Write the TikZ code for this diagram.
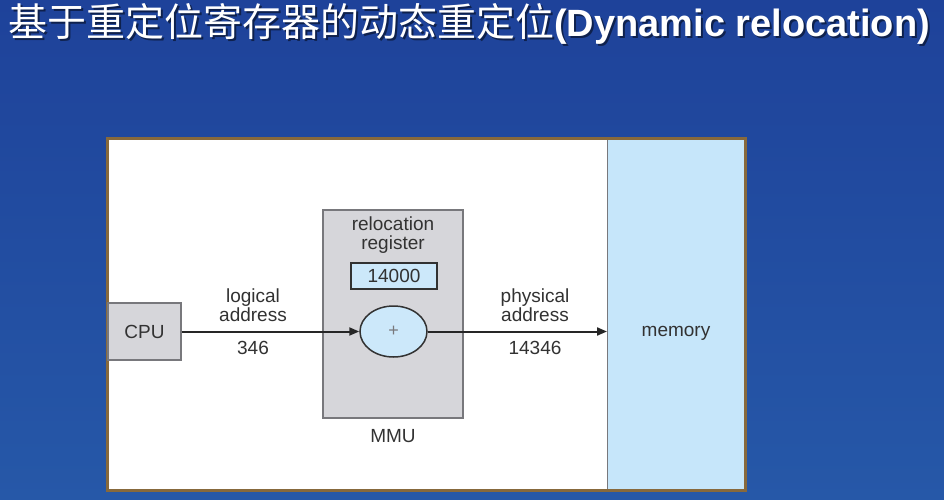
\documentclass[tikz,border=0pt]{standalone}
\usepackage{fontspec}
\setmainfont{Liberation Sans}
\newfontfamily\cjk{Noto Sans CJK SC}
\usetikzlibrary{arrows.meta,shapes.geometric}
\definecolor{bgtop}{RGB}{30,66,154}
\definecolor{bgbot}{RGB}{38,88,168}
\definecolor{framebrown}{RGB}{135,105,60}
\definecolor{memblue}{RGB}{198,230,250}
\definecolor{boxgray}{RGB}{214,214,218}
\definecolor{edgegray}{RGB}{120,120,124}
\definecolor{txt}{RGB}{50,50,50}
\definecolor{regblue}{RGB}{204,232,250}
\begin{document}
\begin{tikzpicture}[x=1pt,y=-1pt,
  lbl/.style={text=txt,font=\fontsize{19}{19}\selectfont,align=center,inner sep=0pt},
  graybox/.style={draw=edgegray,fill=boxgray,line width=1.2pt,inner sep=0pt},
  conn/.style={draw=black!85,line width=2pt,-{Triangle[length=10pt,width=8pt]}},
  ttl/.style={anchor=base west,inner sep=0pt}]
\useasboundingbox (0,0) rectangle (944,500);
\shade[top color=bgtop,bottom color=bgbot] (0,0) rectangle (944,500);
% title
\node[ttl,text=black,opacity=.5] (titleshadow) at (10,38.5) {{\cjk\fontsize{39}{40}\selectfont 基于重定位寄存器的动态重定位}{\fontsize{38}{40}\selectfont\bfseries(Dynamic relocation)}};
\node[ttl,text=white] (title) at (8,36.5) {{\cjk\fontsize{39}{40}\selectfont 基于重定位寄存器的动态重定位}{\fontsize{38}{40}\selectfont\bfseries(Dynamic relocation)}};
% frame
\draw[line width=3pt,draw=framebrown,fill=white] (107,138) rectangle (745,490);
\node[fill=memblue,draw=none,minimum width=136.5pt,minimum height=349pt,inner sep=0pt,anchor=north west] (mem) at (607,139.5) {};
\draw[edgegray,line width=1pt] (mem.north west) -- (mem.south west);
\node[lbl] (memlbl) at (676,333.5) {memory};
% CPU
\node[graybox,minimum width=73pt,minimum height=57pt] (cpu) at (144.5,331.5) {};
\node[lbl] (cpulbl) at (cpu.center) {CPU};
% MMU
\node[graybox,minimum width=140pt,minimum height=208pt] (mmu) at (393,314) {};
\node[lbl] (reloc) at (393,235) {relocation\\register};
\node[draw=txt,fill=regblue,line width=1.2pt,minimum width=86pt,minimum height=26pt,inner sep=0pt] (reg) at (394,276) {};
\node[lbl] (regval) at (reg.center) {14000};
\node[ellipse,draw=txt,fill=regblue,line width=1.5pt,minimum width=67pt,minimum height=51pt,inner sep=0pt] (plus) at (393.5,331.5) {};
\node[lbl,font=\fontsize{18}{18}\selectfont,text=edgegray] (plussign) at (plus.center) {+};
\node[lbl] (mmulbl) at (393,436) {MMU};
% arrows
\draw[conn] (cpu.east) -- (plus.west);
\draw[conn] (plus.east) -- (plus.east -| mem.west);
% labels
\node[lbl] (logical) at (253,305.5) {logical\\address};
\node[lbl] (logval) at (253,348) {346};
\node[lbl] (physical) at (535,305.5) {physical\\address};
\node[lbl] (physval) at (535,348) {14346};
\end{tikzpicture}
\end{document}
